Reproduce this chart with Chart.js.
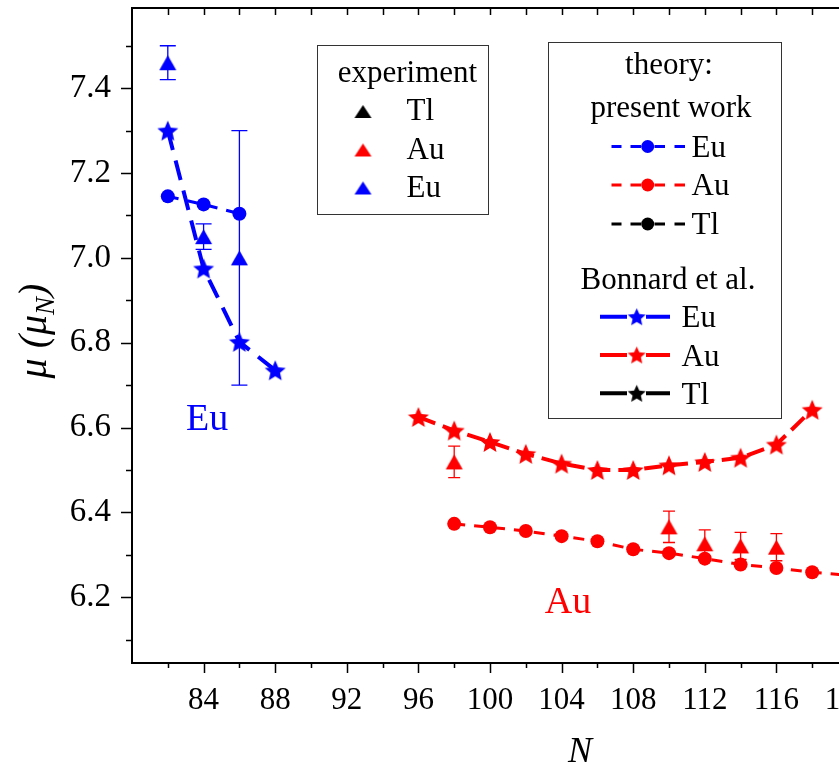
<!DOCTYPE html>
<html>
<head>
<meta charset="utf-8">
<script src="https://cdn.jsdelivr.net/npm/chart.js@4.4.1/dist/chart.umd.min.js"></script>
<style>
  html, body { margin: 0; padding: 0; background: #fff; overflow: hidden; width: 839px; height: 771px; }
  canvas { display: block; }
</style>
</head>
<body>
<canvas id="c" width="940" height="771"></canvas>
<script>
// ---- measured magnetic moments (experiment) ----
const nEuExp = [82, 84, 86];
const muEuExp = [7.46, 7.05, 7.00];
const errEuExp = [0.04, 0.03, 0.30];

const nAuExp = [98, 110, 112, 114, 116];
const muAuExp = [6.519, 6.366, 6.326, 6.321, 6.318];
const errAuExp = [0.037, 0.037, 0.033, 0.032, 0.032];

// ---- theory: present work ----
const nEuTheory = [82, 84, 86];
const muEuTheory = [7.145, 7.126, 7.104];

const nAuTheory = [98, 100, 102, 104, 106, 108, 110, 112, 114, 116, 118, 120];
const muAuTheory = [6.373, 6.365, 6.356, 6.344, 6.332, 6.313, 6.304, 6.291, 6.277, 6.269, 6.259, 6.252];

// ---- theory: Bonnard et al. ----
const nEuBonnard = [82, 84, 86, 88];
const muEuBonnard = [7.30, 6.975, 6.802, 6.735];

const nAuBonnard = [96, 98, 100, 102, 104, 106, 108, 110, 112, 114, 116, 118];
const muAuBonnard = [6.625, 6.593, 6.566, 6.538, 6.515, 6.500, 6.500, 6.511, 6.519, 6.529, 6.560, 6.642];

// ---- axis ticks ----
const xTickValues = [84, 88, 92, 96, 100, 104, 108, 112, 116, 120];
const yTickValues = [6.2, 6.4, 6.6, 6.8, 7.0, 7.2, 7.4];

const BLUE = '#0000ff', RED = '#ff0000', BLACK = '#000000';
const SERIF = '"Liberation Serif", "Times New Roman", serif';
Chart.defaults.font.family = SERIF;
Chart.defaults.color = '#000';

function pts(xs, ys) { return xs.map((x, i) => ({ x, y: ys[i] })); }

// filled five-pointed star, centred on its bounding box
function starSymbol(color, R) {
  const s = Math.ceil(R * 2 + 4);
  const c = document.createElement('canvas');
  c.width = c.height = s;
  const g = c.getContext('2d');
  const cx = s / 2, cy = s / 2 + 0.095 * R;
  g.fillStyle = color;
  g.beginPath();
  for (let i = 0; i < 10; i++) {
    const r = i % 2 ? R * 0.46 : R;
    const a = -Math.PI / 2 + i * Math.PI / 5;
    g.lineTo(cx + r * Math.cos(a), cy + r * Math.sin(a));
  }
  g.closePath();
  g.fill();
  return c;
}

// filled up-pointing triangle, centred on its bounding box
function triSymbol(color, w, h) {
  const c = document.createElement('canvas');
  c.width = Math.ceil(w + 2); c.height = Math.ceil(h + 2);
  const g = c.getContext('2d');
  const cx = c.width / 2, cy = c.height / 2;
  g.fillStyle = color;
  g.beginPath();
  g.moveTo(cx, cy - h / 2);
  g.lineTo(cx + w / 2, cy + h / 2);
  g.lineTo(cx - w / 2, cy + h / 2);
  g.closePath();
  g.fill();
  return c;
}

const starBlue = starSymbol(BLUE, 11), starRed = starSymbol(RED, 11);
const triBlue = triSymbol(BLUE, 17, 15), triRed = triSymbol(RED, 17, 15);
const legStar = { b: starSymbol(BLUE, 9.5), r: starSymbol(RED, 9.5), k: starSymbol(BLACK, 9.5) };
const legTri = { b: triSymbol(BLUE, 17, 13), r: triSymbol(RED, 17, 13), k: triSymbol(BLACK, 17, 13) };

// error bars for experimental points
const errorBars = {
  id: 'errorBars',
  beforeDatasetsDraw(chart) {
    const ctx = chart.ctx, xs = chart.scales.x, ys = chart.scales.y;
    chart.data.datasets.forEach(ds => {
      if (!ds.errors) return;
      ctx.save();
      ctx.strokeStyle = ds.errColor;
      ctx.lineWidth = 1.3;
      ds.data.forEach((p, j) => {
        const e = ds.errors[j];
        const px = xs.getPixelForValue(p.x);
        const t = ys.getPixelForValue(p.y + e), b = ys.getPixelForValue(p.y - e);
        const w = ds.capWidth / 2;
        ctx.beginPath();
        ctx.moveTo(px, t); ctx.lineTo(px, b);
        ctx.moveTo(px - w, t); ctx.lineTo(px + w, t);
        ctx.moveTo(px - w, b); ctx.lineTo(px + w, b);
        ctx.stroke();
      });
      ctx.restore();
    });
  }
};

// axis frame, tick marks, axis titles, annotations and legend boxes
const decorations = {
  id: 'decorations',
  afterDraw(chart) {
    const ctx = chart.ctx, xs = chart.scales.x, ys = chart.scales.y;
    const { left, right, top, bottom } = chart.chartArea;
    ctx.save();
    ctx.strokeStyle = '#000';
    ctx.lineWidth = 2;
    ctx.strokeRect(left, top, right - left, bottom - top);

    ctx.lineWidth = 1.5;
    ctx.beginPath();
    for (let k = 61; k <= 75; k++) {
      const v = k / 10;
      const y = Math.round(ys.getPixelForValue(v)) + 0.5;
      const len = (k % 2 === 0) ? 11 : 6;
      ctx.moveTo(left - len, y); ctx.lineTo(left, y);
    }
    for (let n = 82; n <= 124; n += 2) {
      const x = Math.round(xs.getPixelForValue(n)) + 0.5;
      const len = (n % 4 === 0) ? 10 : 5;
      ctx.moveTo(x, bottom); ctx.lineTo(x, bottom + len);
      ctx.moveTo(x, top); ctx.lineTo(x, top + 7);
    }
    ctx.stroke();

    // x title
    ctx.fillStyle = '#000';
    ctx.font = 'italic 36px ' + SERIF;
    ctx.textAlign = 'center';
    ctx.textBaseline = 'alphabetic';
    ctx.fillText('N', 580, 762);

    // y title with subscript
    ctx.save();
    ctx.translate(46, 331);
    ctx.rotate(-Math.PI / 2);
    const big = 'italic 40px ' + SERIF, small = 'italic 27px ' + SERIF;
    ctx.font = big; const w1 = ctx.measureText('\u03bc (\u03bc').width;
    ctx.font = small; const w2 = ctx.measureText('N').width;
    ctx.font = big; const w3 = ctx.measureText(')').width;
    let x0 = -(w1 + w2 + w3) / 2;
    ctx.textAlign = 'left';
    ctx.font = big; ctx.fillText('\u03bc (\u03bc', x0, 0);
    ctx.font = small; ctx.fillText('N', x0 + w1, 8);
    ctx.font = big; ctx.fillText(')', x0 + w1 + w2, 0);
    ctx.restore();

    // element labels inside the plot
    ctx.font = '38px ' + SERIF;
    ctx.textAlign = 'center';
    ctx.fillStyle = BLUE;
    ctx.fillText('Eu', xs.getPixelForValue(84.2), ys.getPixelForValue(6.595));
    ctx.fillStyle = RED;
    ctx.fillText('Au', xs.getPixelForValue(104.36), ys.getPixelForValue(6.162));

    // legend: experiment
    ctx.lineWidth = 1;
    ctx.strokeStyle = '#333';
    ctx.fillStyle = '#fff';
    ctx.fillRect(317, 45, 171, 169);
    ctx.strokeRect(317.5, 45.5, 171, 169);
    ctx.fillStyle = '#000';
    ctx.font = '31px ' + SERIF;
    ctx.textAlign = 'center';
    ctx.fillText('experiment', 407.5, 82);
    ctx.textAlign = 'left';
    const expRows = [['k', 'Tl', 111.5, 120], ['r', 'Au', 150, 158.5], ['b', 'Eu', 188, 196.5]];
    expRows.forEach(([c, t, yc, yb]) => {
      const img = legTri[c];
      ctx.drawImage(img, 363 - img.width / 2, yc - img.height / 2);
      ctx.fillText(t, 406.5, yb);
    });

    // legend: theory
    ctx.fillStyle = '#fff';
    ctx.fillRect(548, 42, 233, 376);
    ctx.strokeRect(548.5, 42.5, 233, 376);
    ctx.fillStyle = '#000';
    ctx.textAlign = 'center';
    ctx.fillText('theory:', 669, 73.5);
    ctx.fillText('present work', 671, 116.5);
    ctx.fillText('Bonnard et al.', 668, 288.5);
    ctx.textAlign = 'left';
    const cols = { b: BLUE, r: RED, k: BLACK };
    const pwRows = [['b', 'Eu', 146.5, 156.5], ['r', 'Au', 185, 195], ['k', 'Tl', 224, 234]];
    pwRows.forEach(([c, t, yc, yb]) => {
      ctx.strokeStyle = cols[c];
      ctx.lineWidth = 3;
      ctx.beginPath();
      [[611.5, 621.5], [630.5, 641], [654.5, 665], [674.5, 685]].forEach(([a, b]) => { ctx.moveTo(a, yc); ctx.lineTo(b, yc); });
      ctx.stroke();
      ctx.fillStyle = cols[c];
      ctx.beginPath(); ctx.arc(647.7, yc, 6.5, 0, Math.PI * 2); ctx.fill();
      ctx.fillStyle = '#000';
      ctx.fillText(t, 691.5, yb);
    });
    const bnRows = [['b', 'Eu', 316.7, 327], ['r', 'Au', 355, 365.5], ['k', 'Tl', 393.3, 404]];
    bnRows.forEach(([c, t, yc, yb]) => {
      ctx.strokeStyle = cols[c];
      ctx.lineWidth = 4;
      ctx.beginPath();
      ctx.moveTo(600, yc); ctx.lineTo(627, yc);
      ctx.moveTo(646, yc); ctx.lineTo(670, yc);
      ctx.stroke();
      const img = legStar[c];
      ctx.drawImage(img, 636.7 - img.width / 2, yc - img.height / 2);
      ctx.fillStyle = '#000';
      ctx.fillText(t, 681.5, yb);
    });
    ctx.restore();
  }
};

const xTickFont = { family: SERIF, size: 31 };
const yTickFont = { family: SERIF, size: 33 };

new Chart(document.getElementById('c'), {
  type: 'scatter',
  data: {
    datasets: [
      { label: 'Eu experiment', data: pts(nEuExp, muEuExp), errors: errEuExp, errColor: BLUE, capWidth: 16,
        pointStyle: triBlue, showLine: false, order: 1 },
      { label: 'Au experiment', data: pts(nAuExp, muAuExp), errors: errAuExp, errColor: RED, capWidth: 12,
        pointStyle: triRed, showLine: false, order: 1 },
      { label: 'Eu present work', data: pts(nEuTheory, muEuTheory), showLine: true,
        borderColor: BLUE, backgroundColor: BLUE, borderWidth: 3, borderDash: [11, 9],
        pointStyle: 'circle', pointRadius: 7, pointBorderWidth: 0, pointBackgroundColor: BLUE, order: 2 },
      { label: 'Au present work', data: pts(nAuTheory, muAuTheory), showLine: true,
        borderColor: RED, backgroundColor: RED, borderWidth: 3, borderDash: [11, 9],
        pointStyle: 'circle', pointRadius: 7, pointBorderWidth: 0, pointBackgroundColor: RED, order: 2 },
      { label: 'Eu Bonnard et al.', data: pts(nEuBonnard, muEuBonnard), showLine: true,
        borderColor: BLUE, borderWidth: 4, borderDash: [20, 11],
        pointStyle: starBlue, order: 3 },
      { label: 'Au Bonnard et al.', data: pts(nAuBonnard, muAuBonnard), showLine: true,
        borderColor: RED, borderWidth: 4, borderDash: [18, 8],
        pointStyle: starRed, order: 3 }
    ]
  },
  options: {
    responsive: false,
    animation: false,
    events: [],
    layout: { padding: { top: 8, right: 20.4, left: 0, bottom: 0 } },
    plugins: { legend: { display: false }, tooltip: { enabled: false } },
    scales: {
      x: {
        type: 'linear', min: 80, max: 124,
        grid: { display: false, drawTicks: false },
        border: { display: false },
        afterBuildTicks: s => { s.ticks = xTickValues.map(v => ({ value: v })); },
        afterFit: s => { s.height = 108; s.paddingLeft = 0; s.paddingRight = 0; },
        ticks: { padding: 19, font: xTickFont, color: '#000', maxRotation: 0, autoSkip: false,
                 callback: v => String(v) }
      },
      y: {
        type: 'linear', min: 6.045, max: 7.589,
        grid: { display: false, drawTicks: false },
        border: { display: false },
        afterBuildTicks: s => { s.ticks = yTickValues.map(v => ({ value: v })); },
        afterFit: s => { s.width = 132; s.paddingTop = 0; s.paddingBottom = 0; },
        ticks: { padding: 21, font: yTickFont, color: '#000', autoSkip: false,
                 callback: v => Number(v).toFixed(1) }
      }
    }
  },
  plugins: [errorBars, decorations]
});
</script>
</body>
</html>
